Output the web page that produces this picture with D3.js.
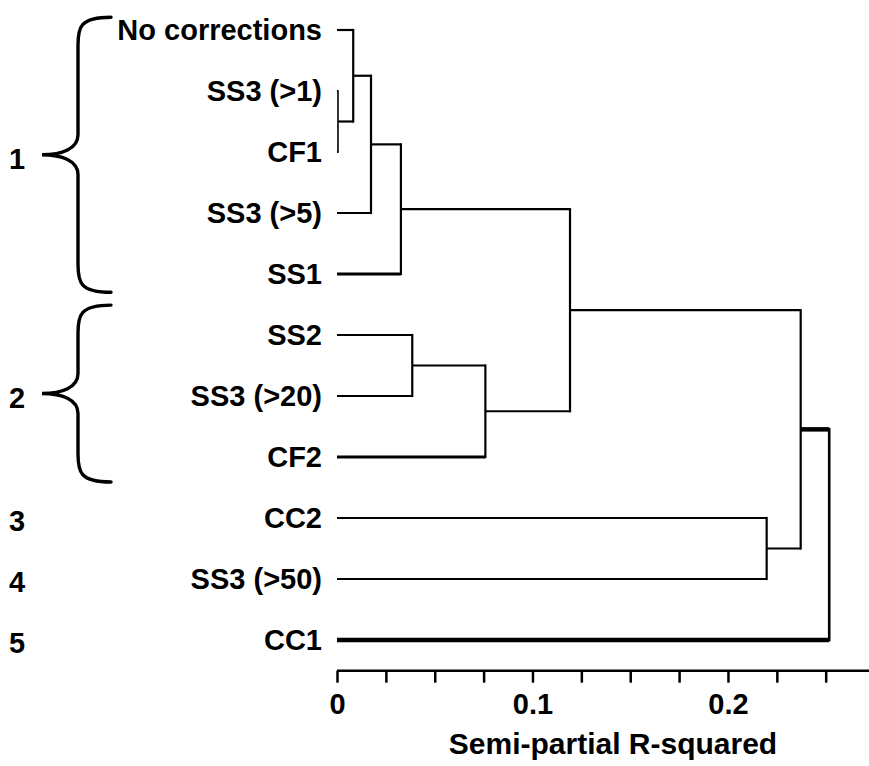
<!DOCTYPE html>
<html>
<head>
<meta charset="utf-8">
<script src="https://cdn.jsdelivr.net/npm/d3@7"></script>
<style>
  html, body { margin: 0; padding: 0; background: #fff; }
  svg { display: block; }
  text { font-family: "Liberation Sans", Arial, Helvetica, sans-serif; font-weight: bold; fill: #000; }
</style>
</head>
<body>
<svg id="chart" width="869" height="766"></svg>
<script>
// ---- data ----
const leaves = ["No corrections", "SS3 (>1)", "CF1", "SS3 (>5)", "SS1", "SS2", "SS3 (>20)", "CF2", "CC2", "SS3 (>50)", "CC1"];
// internal merges (semi-partial R-squared at which they join)
const nodeIds    = ["a", "b", "c", "d", "e", "f", "g", "i", "h", "root"];
const nodeLeft   = ["SS3 (>1)", "No corrections", "b", "c", "SS2", "e", "d", "CC2", "g", "h"];
const nodeRight  = ["CF1", "a", "SS3 (>5)", "SS1", "SS3 (>20)", "CF2", "f", "SS3 (>50)", "i", "CC1"];
const nodeHeight = [0.0005, 0.0083, 0.0174, 0.0327, 0.0385, 0.0759, 0.1192, 0.2198, 0.2372, 0.2518];
// axis
const tickValues = [0, 0.025, 0.05, 0.075, 0.1, 0.125, 0.15, 0.175, 0.2, 0.225, 0.25];
const tickLabels = ["0", "", "", "", "0.1", "", "", "", "0.2", "", ""];
const axisTitle = "Semi-partial R-squared";
// cluster groups (leaf index spans)
const braceLabels = ["1", "2"];
const braceFrom = [-0.21, 4.51];
const braceTo   = [4.30, 7.41];
const soloLabels = ["3", "4", "5"];
const soloLeaf   = ["CC2", "SS3 (>50)", "CC1"];

// ---- styles ----
const thick = { "SS1": 3, "CF2": 3, "CC1": 4.5, "h": 4.5 };

const svg = d3.select("#chart");
svg.append("rect").attr("width", 869).attr("height", 766).attr("fill", "#fff");

const x = d3.scaleLinear().domain([0, 0.25]).range([337, 825.7]);
const xEnd = 869;
const y = d3.scaleLinear().domain([0, leaves.length - 1]).range([30, 640]);

// build tree with d3.hierarchy
const defs = {};
nodeIds.forEach((id, k) => defs[id] = { id, left: nodeLeft[k], right: nodeRight[k], h: nodeHeight[k] });
function build(name) {
  if (defs[name]) return { name, h: defs[name].h, children: [build(defs[name].left), build(defs[name].right)] };
  return { name, h: 0 };
}
const root = d3.hierarchy(build("root"));
root.eachAfter(n => {
  n.px = x(n.data.h);
  if (n.children) n.py = d3.mean(n.children, c => c.py);
  else n.py = y(leaves.indexOf(n.data.name));
});

const g = svg.append("g").attr("fill", "none").attr("stroke", "#000").attr("stroke-linecap", "square");
root.each(n => {
  if (!n.children) return;
  const [c1, c2] = n.children;
  g.append("line").attr("x1", n.px).attr("x2", n.px).attr("y1", c1.py).attr("y2", c2.py)
    .attr("stroke-width", n.data.name === "root" ? 2.6 : (n.data.name === "a" ? 1.6 : 2.2));
  n.children.forEach(c => {
    g.append("line").attr("x1", c.px).attr("x2", n.px).attr("y1", c.py).attr("y2", c.py)
      .attr("stroke-width", thick[c.data.name] || 2.2)
      .attr("stroke-linecap", "butt");
  });
});

// leaf labels
svg.append("g").selectAll("text").data(leaves).join("text")
  .attr("x", 322).attr("y", (d, i) => y(i)).attr("dy", "0.36em")
  .attr("text-anchor", "end").attr("font-size", 29).text(d => d);

// axis
const axisY = 670.7;
const axis = d3.axisBottom(x).tickValues(tickValues).tickFormat((d, i) => tickLabels[i])
  .tickSize(12).tickSizeOuter(0).tickPadding(11);
const ax = svg.append("g").attr("transform", `translate(0,${axisY})`).call(axis);
ax.select(".domain").remove();
ax.append("line").attr("x1", x(0)).attr("x2", xEnd).attr("y1", 0).attr("y2", 0)
  .attr("stroke", "#000").attr("stroke-width", 2.5);
ax.selectAll(".tick line").attr("stroke", "#000").attr("stroke-width", 2.5);
ax.selectAll(".tick text").attr("font-size", 29).attr("fill", "#000")
  .attr("font-family", "'Liberation Sans', Arial, sans-serif").attr("font-weight", "bold");

svg.append("text").attr("x", 613).attr("y", 754).attr("text-anchor", "middle")
  .attr("font-size", 30).text(axisTitle);

// braces
const bx = { tip: 42, stem: 78, end: 111 };
braceLabels.forEach((lab, k) => {
  const top = y(braceFrom[k]), bot = y(braceTo[k]), mid = (top + bot) / 2;
  const r = 28;
  const p = d3.path();
  p.moveTo(bx.end, top);
  p.bezierCurveTo(bx.stem + 2, top, bx.stem, top + 10, bx.stem, top + r);
  p.lineTo(bx.stem, mid - 20);
  p.bezierCurveTo(bx.stem, mid - 6, bx.tip + 20, mid, bx.tip, mid);
  p.bezierCurveTo(bx.tip + 20, mid, bx.stem, mid + 6, bx.stem, mid + 20);
  p.lineTo(bx.stem, bot - r);
  p.bezierCurveTo(bx.stem, bot - 10, bx.stem + 2, bot, bx.end, bot);
  svg.append("path").attr("d", p.toString()).attr("fill", "none").attr("stroke", "#000")
    .attr("stroke-width", 3.4).attr("stroke-linecap", "round");
  svg.append("text").attr("x", 9).attr("y", mid + 4).attr("dy", "0.36em").attr("font-size", 29).text(lab);
});
soloLabels.forEach((lab, k) => {
  svg.append("text").attr("x", 9).attr("y", y(leaves.indexOf(soloLeaf[k])) + 3).attr("dy", "0.36em")
    .attr("font-size", 29).text(lab);
});
</script>
</body>
</html>
